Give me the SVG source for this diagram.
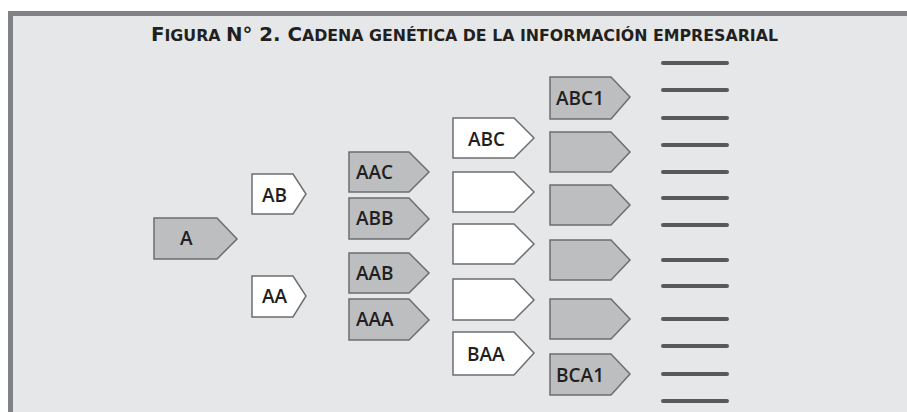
<svg xmlns="http://www.w3.org/2000/svg" width="907" height="412" viewBox="0 0 907 412">
<style>
.g{fill:#bcbec0;stroke:#6d6e71;stroke-width:1.5}
.w{fill:#ffffff;stroke:#6d6e71;stroke-width:1.5}
.t{font-family:"Open Sans","Liberation Sans",sans-serif;font-weight:600;font-size:19px;fill:#231f20}
.ttl{font-family:"DejaVu Sans Condensed","DejaVu Sans",sans-serif;font-weight:bold;font-size:16px;fill:#231f20}
.big{font-size:20px}
.ln{stroke:#58595b;stroke-width:4;stroke-linecap:round}
</style>
<rect x="0" y="0" width="907" height="412" fill="#ffffff"/>
<rect x="8" y="11" width="899" height="401" fill="#808285"/>
<rect x="13" y="16" width="894" height="396" fill="#e6e7e8"/>
<text class="ttl" x="151" y="41" textLength="627" lengthAdjust="spacingAndGlyphs"><tspan class="big">F</tspan>IGURA <tspan class="big">N° 2. C</tspan>ADENA GENÉTICA DE LA INFORMACIÓN EMPRESARIAL</text>
<g id="nodes">
<g id="n-A"><path class="g" d="M154,218H217L237,239L217,259H154Z"/><text class="t" x="180" y="245">A</text></g>
<g id="n-AB"><path class="w" d="M252,174H293L306,194L293,214H252Z"/><text class="t" x="262" y="202">AB</text></g>
<g id="n-AA"><path class="w" d="M252,276H293L306,296L293,317H252Z"/><text class="t" x="262" y="303">AA</text></g>
<g id="n-AAC"><path class="g" d="M349,152H409L429,172L409,192H349Z"/><text class="t" x="356" y="179">AAC</text></g>
<g id="n-ABB"><path class="g" d="M349,198H409L429,219L409,239H349Z"/><text class="t" x="356" y="225">ABB</text></g>
<g id="n-AAB"><path class="g" d="M349,253H409L429,273L409,293H349Z"/><text class="t" x="356" y="280">AAB</text></g>
<g id="n-AAA"><path class="g" d="M349,299H409L429,320L409,340H349Z"/><text class="t" x="356" y="326">AAA</text></g>
<g id="n-ABC"><path class="w" d="M453,118H514L534,138L514,158H453Z"/><text class="t" x="468" y="146">ABC</text></g>
<g id="n-w2"><path class="w" d="M453,172H514L534,192L514,212H453Z"/></g>
<g id="n-w3"><path class="w" d="M453,224H514L534,244L514,264H453Z"/></g>
<g id="n-w4"><path class="w" d="M453,279H514L534,300L514,320H453Z"/></g>
<g id="n-BAA"><path class="w" d="M453,332H514L534,353L514,375H453Z"/><text class="t" x="467" y="361">BAA</text></g>
<g id="n-ABC1"><path class="g" d="M550,77H611L630,97L611,119H550Z"/><text class="t" x="556" y="105">ABC1</text></g>
<g id="n-g2"><path class="g" d="M550,132H611L630,152L611,172H550Z"/></g>
<g id="n-g3"><path class="g" d="M550,185H611L630,205L611,225H550Z"/></g>
<g id="n-g4"><path class="g" d="M550,240H611L630,260L611,280H550Z"/></g>
<g id="n-g5"><path class="g" d="M550,299H611L630,319L611,339H550Z"/></g>
<g id="n-BCA1"><path class="g" d="M550,354H611L630,374L611,395H550Z"/><text class="t" x="556" y="382">BCA1</text></g>
</g>
<g id="connectors">
<line class="ln" x1="663" y1="63" x2="727" y2="63"/>
<line class="ln" x1="663" y1="90" x2="727" y2="90"/>
<line class="ln" x1="663" y1="118" x2="727" y2="118"/>
<line class="ln" x1="663" y1="145" x2="727" y2="145"/>
<line class="ln" x1="663" y1="172" x2="727" y2="172"/>
<line class="ln" x1="663" y1="198" x2="727" y2="198"/>
<line class="ln" x1="663" y1="225" x2="727" y2="225"/>
<line class="ln" x1="663" y1="260" x2="727" y2="260"/>
<line class="ln" x1="663" y1="286" x2="727" y2="286"/>
<line class="ln" x1="663" y1="319" x2="727" y2="319"/>
<line class="ln" x1="663" y1="346" x2="727" y2="346"/>
<line class="ln" x1="663" y1="374" x2="727" y2="374"/>
<line class="ln" x1="663" y1="401" x2="727" y2="401"/>
</g>
</svg>
